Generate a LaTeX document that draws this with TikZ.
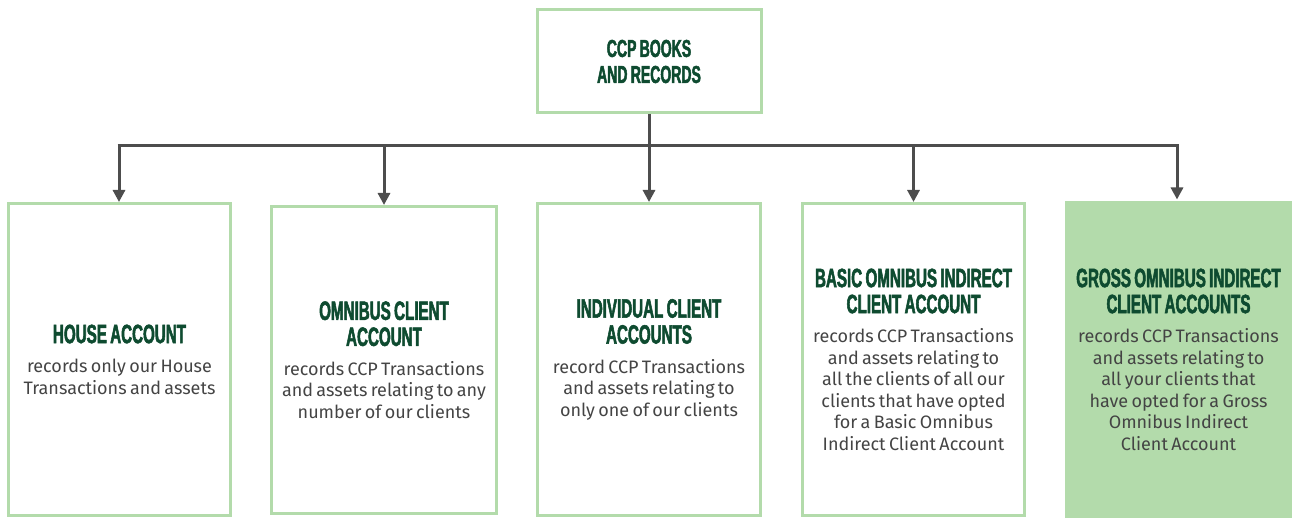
\documentclass[tikz,border=0pt]{standalone}
\usepackage{fontspec}
\setmainfont{Fira Sans}
\newfontfamily\hdfont[FakeStretch=0.572,FakeBold=2]{Liberation Sans}
\usetikzlibrary{arrows.meta}
\definecolor{boxgreen}{HTML}{B3DBAB}
\definecolor{headgreen}{HTML}{0E4B30}
\definecolor{bodygrey}{HTML}{444444}
\definecolor{linegrey}{HTML}{4D4D4D}
\newcommand\hd{\hdfont\bfseries\fontsize{26.5}{26}\selectfont\color{headgreen}}
\newcommand\hdtop{\hdfont\bfseries\fontsize{24.5}{26}\selectfont\color{headgreen}}
\newcommand\bd{\fontsize{18}{21.5}\selectfont\color{bodygrey}}
\begin{document}
\begin{tikzpicture}[x=1pt,y=-1pt,
  acct/.style={draw=boxgreen,line width=3pt,inner sep=0pt,text width=214pt,align=center},
  conn/.style={draw=linegrey,line width=3pt},
  arr/.style={conn,-{Triangle[width=12pt,length=12pt]}}]
\useasboundingbox (0,0) rectangle (1292,518);
\node[acct,minimum width=224pt,minimum height=103pt] (top) at (649,61.5)
  {{\hdtop CCP BOOKS\\AND RECORDS\par}};
\node[acct,minimum width=222pt,minimum height=312pt] (b1) at (119.5,359.5)
  {{\hd HOUSE ACCOUNT\par}\vspace{8pt}{\bd records only our House\\Transactions and assets\par}};
\node[acct,minimum width=225pt,minimum height=307pt] (b2) at (384,360)
  {{\hd OMNIBUS CLIENT\\ACCOUNT\par}\vspace{8pt}{\bd records CCP Transactions\\and assets relating to any\\number of our clients\par}};
\node[acct,minimum width=223pt,minimum height=312pt] (b3) at (649,359.5)
  {{\hd INDIVIDUAL CLIENT\\ACCOUNTS\par}\vspace{8pt}{\bd record CCP Transactions\\and assets relating to\\only one of our clients\par}};
\node[acct,minimum width=222pt,minimum height=312pt] (b4) at (913.5,359.5)
  {{\hd BASIC OMNIBUS INDIRECT\\CLIENT ACCOUNT\par}\vspace{8pt}{\bd records CCP Transactions\\and assets relating to\\all the clients of all our\\clients that have opted\\for a Basic Omnibus\\Indirect Client Account\par}};
\node[acct,draw=none,fill=boxgreen,minimum width=227pt,minimum height=317pt] (b5) at (1178.5,359.5)
  {{\hd GROSS OMNIBUS INDIRECT\\CLIENT ACCOUNTS\par}\vspace{8pt}{\bd records CCP Transactions\\and assets relating to\\all your clients that\\have opted for a Gross\\Omnibus Indirect\\Client Account\par}};
\coordinate (j) at (649,146);
\coordinate (jl) at (119,146);
\coordinate (jr) at (1177,146);
\draw[conn] (top.south) -- (j);
\draw[conn,line cap=butt] ([xshift=-1.5pt]jl) -- ([xshift=1.5pt]jr);
\draw[arr] (jl) -- (jl |- b1.north);
\draw[arr] (b2.north |- j) -- (b2.north);
\draw[arr] (j) -- (b3.north);
\draw[arr] (b4.north |- j) -- (b4.north);
\draw[arr] (jr) -- (jr |- b5.north);
\end{tikzpicture}
\end{document}
